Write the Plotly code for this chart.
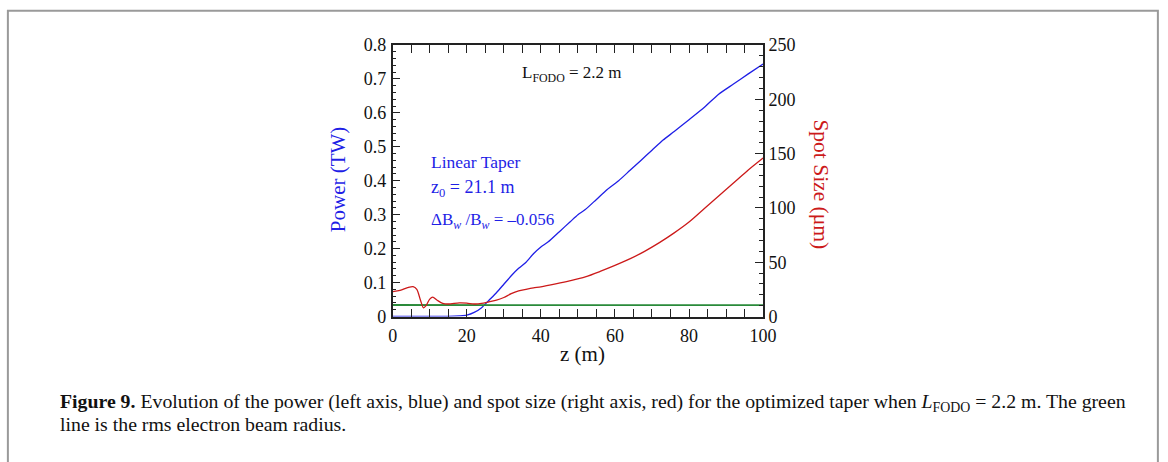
import plotly.graph_objects as go

# ---- data ----
z_power = [0, 5, 10, 15, 18, 20, 22, 24, 26, 28, 30, 32, 34, 36, 38, 40, 42, 45, 48, 50, 52, 55, 58, 61,
           64, 67, 70, 73, 76, 80, 84, 88, 92, 96, 100]
power_tw = [0, 0, 0, 0.0005, 0.002, 0.004, 0.012, 0.026, 0.048, 0.07, 0.095, 0.12, 0.142, 0.16, 0.185, 0.205,
            0.22, 0.25, 0.28, 0.30, 0.315, 0.345, 0.375, 0.40, 0.43, 0.46, 0.49, 0.52, 0.545, 0.58, 0.615,
            0.655, 0.685, 0.715, 0.744]

z_spot = [0, 2, 4, 5.5, 6.5, 7.5, 8.3, 9, 10, 10.8, 12, 13.5, 15, 18, 20, 22, 24, 26, 28, 30, 32, 34, 36,
          38, 40, 44, 48, 52, 56, 60, 64, 68, 72, 76, 80, 84, 88, 92, 96, 100]
spot_um = [23, 24, 26.5, 27.5, 25, 15, 8, 10, 16, 17.8, 15, 12, 11.5, 12.5, 12.3, 11.5, 12, 13.5, 15, 17.5,
           21, 23.5, 25, 26.3, 27.3, 30, 33, 36.5, 41.5, 47, 53, 60, 68, 77, 87, 99, 111, 123, 135, 146]

z_beam = [0, 10, 20, 30, 40, 50, 60, 70, 80, 90, 100]
beam_um = [10.6, 10.5, 10.5, 10.4, 10.5, 10.5, 10.6, 10.5, 10.5, 10.6, 10.5]

x_ticks = [0, 20, 40, 60, 80, 100]
y_ticks = [0, 0.1, 0.2, 0.3, 0.4, 0.5, 0.6, 0.7, 0.8]
y_tick_labels = ["0", "0.1", "0.2", "0.3", "0.4", "0.5", "0.6", "0.7", "0.8"]
y2_ticks = [0, 50, 100, 150, 200, 250]

SERIF = "Liberation Serif, Times New Roman, serif"
BLUE = "#1f1fe6"
RED = "#cc1a1a"
GREEN = "#2a8a3a"
AX = "#222222"

fig = go.Figure()
fig.add_trace(go.Scatter(x=z_beam, y=beam_um, mode="lines", yaxis="y2",
                         line=dict(color=GREEN, width=1.8), showlegend=False))
fig.add_trace(go.Scatter(x=z_spot, y=spot_um, mode="lines", yaxis="y2",
                         line=dict(color=RED, width=1.3, shape="spline", smoothing=0.8), showlegend=False))
fig.add_trace(go.Scatter(x=z_power, y=power_tw, mode="lines",
                         line=dict(color=BLUE, width=1.3, shape="spline", smoothing=0.6), showlegend=False))

W, H = 1178, 462
# measured mapping from figure pixels to the captured picture: pic = A + S * fig
SXC, AXC = 0.989, 2.6
SYC, AYC = 0.962, 8.8


def px(x):  # target picture pixel -> paper fraction (x)
    return ((x - AXC) / SXC) / W


def py(y):  # target picture pixel -> paper fraction (y)
    return 1 - ((y - AYC) / SYC) / H


x0, x1 = 393, 765
yt, yb = 44, 317

axis_common = dict(showgrid=False, zeroline=False, showline=True, linecolor=AX, linewidth=1.5,
                   ticks="inside", tickcolor=AX, tickwidth=1.2,
                   tickfont=dict(family=SERIF, size=18, color="#111"))
minor_common = dict(ticklen=4, ticks="inside", tickcolor=AX, tickwidth=1.2)

fig.update_layout(
    width=W, height=H,
    margin=dict(l=0, r=0, t=0, b=0),
    paper_bgcolor="white", plot_bgcolor="white",
    xaxis=dict(domain=[px(x0), px(x1)], range=[0, 100], tickvals=x_ticks, ticklen=8, ticklabelstandoff=2,
               mirror="allticks", minor=dict(dtick=5, **minor_common), **axis_common),
    yaxis=dict(domain=[py(yb), py(yt)], range=[0, 0.8], tickvals=y_ticks, ticktext=y_tick_labels,
               ticklen=8, ticklabelstandoff=1, minor=dict(dtick=0.02, **minor_common), **axis_common),
    yaxis2=dict(overlaying="y", side="right", anchor="x", range=[0, 250], tickvals=y2_ticks, ticklen=8,
                ticklabelstandoff=0, minor=dict(dtick=10, **minor_common), **axis_common),
)

ann = []
# axis titles
ann.append(dict(text="Power (TW)", xref="paper", yref="paper", x=px(338), y=py(179),
                xanchor="center", yanchor="middle",
                textangle=-90, showarrow=False, font=dict(family=SERIF, size=21, color=BLUE)))
ann.append(dict(text="Spot Size (μm)", xref="paper", yref="paper", x=px(823), y=py(184),
                xanchor="center", yanchor="middle",
                textangle=90, showarrow=False, font=dict(family=SERIF, size=21.5, color=RED)))
ann.append(dict(text="z (m)", xref="paper", yref="paper", x=px(584), y=py(355),
                xanchor="center", yanchor="middle",
                showarrow=False, font=dict(family=SERIF, size=21, color="#111")))
# in-plot labels
ann.append(dict(text="L<sub>FODO</sub> = 2.2 m", xref="x", yref="y", x=34.5, y=0.715,
                xanchor="left", yanchor="middle",
                showarrow=False, font=dict(family=SERIF, size=17, color="#111")))
ann.append(dict(text="Linear Taper", xref="x", yref="y", x=9.8, y=0.454, xanchor="left", yanchor="middle",
                showarrow=False, font=dict(family=SERIF, size=17.5, color=BLUE)))
ann.append(dict(text="z<sub>0</sub> = 21.1 m", xref="x", yref="y", x=9.8, y=0.378, xanchor="left",
                yanchor="middle", showarrow=False, font=dict(family=SERIF, size=18, color=BLUE)))
ann.append(dict(text="ΔB<sub><i>w</i></sub> /B<sub><i>w</i></sub> = –0.056", xref="x", yref="y", x=9.8, y=0.282,
                xanchor="left", yanchor="middle", showarrow=False, font=dict(family=SERIF, size=17, color=BLUE)))
# caption
ann.append(dict(text="<b>Figure 9.</b> Evolution of the power (left axis, blue) and spot size (right axis, red) "
                     "for the optimized taper when <i>L</i><sub>FODO</sub> = 2.2 m. The green",
                xref="paper", yref="paper", x=px(57), y=py(403), xanchor="left", yanchor="middle",
                showarrow=False, font=dict(family=SERIF, size=19.8, color="#111")))
ann.append(dict(text="line is the rms electron beam radius.",
                xref="paper", yref="paper", x=px(57), y=py(425), xanchor="left", yanchor="middle",
                showarrow=False, font=dict(family=SERIF, size=19.8, color="#111")))
fig.update_layout(annotations=ann)

# outer frame of the figure panel
fl, fr, ft = px(6.5), px(1161.5), 1 - 0.8 / H
fig.add_shape(type="path", xref="paper", yref="paper",
              path=f"M {fl},-0.2 L {fl},{ft} L {fr},{ft} L {fr},-0.2",
              line=dict(color="#9a9a9a", width=2))

fig.write_html("out.html")
